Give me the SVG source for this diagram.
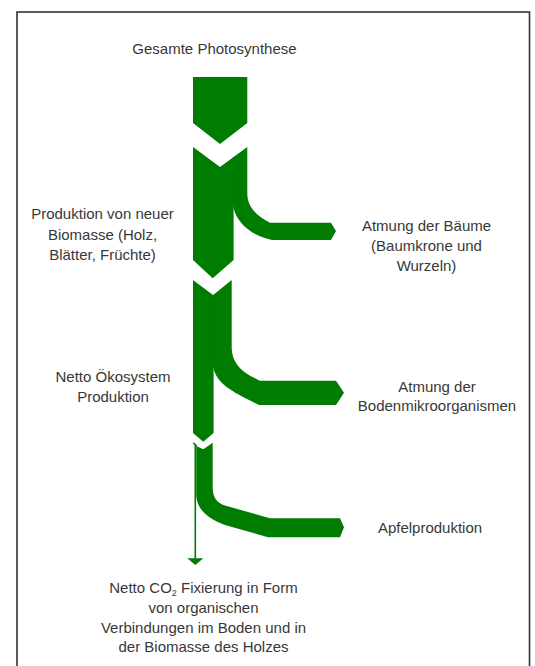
<svg xmlns="http://www.w3.org/2000/svg" width="535" height="666" viewBox="0 0 535 666">
<style>
.t{font-family:"Liberation Sans",Arial,sans-serif;font-size:15px;fill:#383838;text-anchor:middle}
.g{fill:#007c00}
.ln{stroke:#007c00;stroke-width:1.6;fill:none}
</style>
<rect x="0" y="0" width="535" height="666" fill="#fff"/>
<rect x="17" y="12" width="512.5" height="700" fill="none" stroke="#333" stroke-width="1.6"/>
<g id="connectors">
  <path class="g" d="M193,77 L247.3,77 L247.3,123 L220,144 L193,123 Z"/>
  <path class="g" d="M193,147 L220,167 L233.6,157 L233.6,260 L212.7,278.3 L193,260 Z"/>
  <path class="g" d="M232.8,157.6 L247.3,147 L247.3,193 C247.3,206 255,215 270,222.7 L331,222.7 L336,231 L331,240 L272,240 C252,236 234,222 232.8,203 Z"/>
  <path class="g" d="M193,280 L213,295 L213.6,294.6 L213.6,433 L203.3,441.7 L193,433 Z"/>
  <path class="g" d="M212.8,295.2 L231.7,280 L231.7,348 C232,362 240,372 260,380.7 L336,380.7 L344,392.7 L336,405 L259,405 L245,398 C228,389 212.8,380 212.8,362 Z"/>
  <path class="g" d="M196.2,446 L203.3,449.3 L212.7,442.7 L212.7,488 C213,498 217,503 225,505.5 L270,518.3 L340,518.3 L344,527.3 L340,537.3 L268,537.3 L225,525 C206,518 196.2,508 196.2,494 Z"/>
  <path class="ln" d="M193.3,442.7 L196.7,446 M195.3,444 L195.3,559"/>
  <path class="g" d="M187.3,558.3 L203.3,558.3 L195.3,565 Z"/>
</g>
<g id="photosynthese"><text class="t" x="214.5" y="54">Gesamte Photosynthese</text></g>
<g id="produktion">
  <text class="t" x="102.5" y="219">Produktion von neuer</text>
  <text class="t" x="102.5" y="240">Biomasse (Holz,</text>
  <text class="t" x="102.5" y="260">Blätter, Früchte)</text>
</g>
<g id="atmung-baeume">
  <text class="t" x="426.5" y="230.5">Atmung der Bäume</text>
  <text class="t" x="426.5" y="250.5">(Baumkrone und</text>
  <text class="t" x="426.5" y="270.5">Wurzeln)</text>
</g>
<g id="netto-oekosystem">
  <text class="t" x="113" y="381.5">Netto Ökosystem</text>
  <text class="t" x="113" y="401.5">Produktion</text>
</g>
<g id="atmung-boden">
  <text class="t" x="437" y="392">Atmung der</text>
  <text class="t" x="437" y="411">Bodenmikroorganismen</text>
</g>
<g id="apfel"><text class="t" x="430" y="533">Apfelproduktion</text></g>
<g id="netto-co2">
  <text class="t" x="203.5" y="593">Netto CO<tspan font-size="9" dy="3">2</tspan><tspan dy="-3"> Fixierung in Form</tspan></text>
  <text class="t" x="203.5" y="613">von organischen</text>
  <text class="t" x="203.5" y="632.5">Verbindungen im Boden und in</text>
  <text class="t" x="203.5" y="652">der Biomasse des Holzes</text>
</g>
</svg>
